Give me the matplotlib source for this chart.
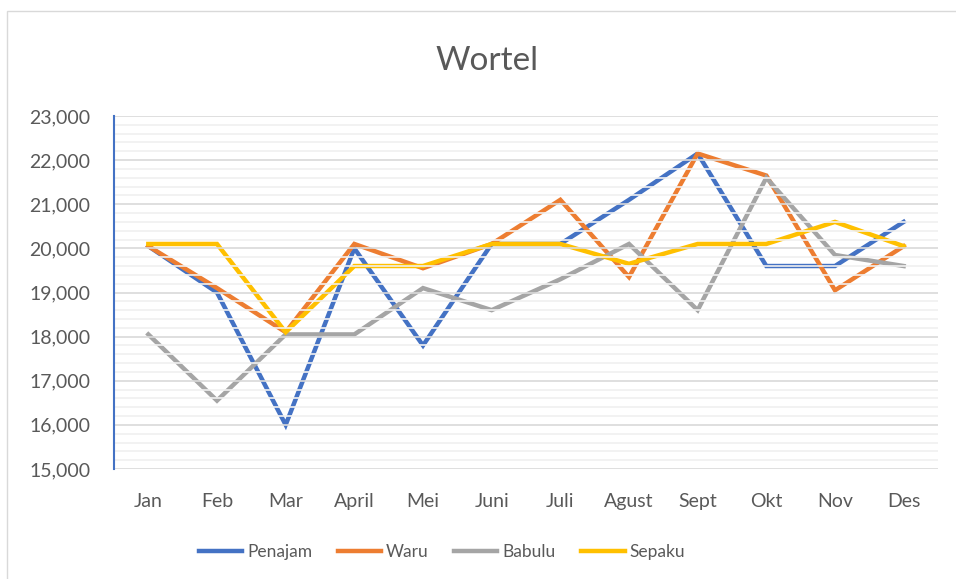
import numpy as np
import matplotlib.pyplot as plt
from matplotlib.ticker import MultipleLocator, FuncFormatter
from matplotlib.patches import Rectangle

plt.rcParams['font.family'] = ['Lato', 'DejaVu Sans']

bulan = ["Jan", "Feb", "Mar", "April", "Mei", "Juni", "Juli",
         "Agust", "Sept", "Okt", "Nov", "Des"]
penajam = [20050, 19000, 16000, 20000, 17800, 20100, 20100, 21100, 22150, 19600, 19600, 20600]
waru = [20050, 19100, 18100, 20100, 19550, 20100, 21100, 19350, 22150, 21650, 19050, 20050]
babulu = [18050, 16550, 18050, 18050, 19100, 18600, 19300, 20100, 18600, 21600, 19850, 19600]
sepaku = [20100, 20100, 18100, 19600, 19600, 20100, 20100, 19650, 20100, 20100, 20600, 20050]

txt = "#595959"
W, H = 956, 579
fig = plt.figure(figsize=(W / 100, H / 100), dpi=100)
fig.patches.append(Rectangle((7 / W, -0.1), 1.2, 1 - 11 / H + 0.1, transform=fig.transFigure,
                             fill=False, edgecolor="#d9d9d9", lw=1))

ax = fig.add_axes([114 / W, 1 - 469 / H, (938 - 114) / W, (469 - 116) / H])
x = np.arange(len(bulan))
series = [("Penajam", penajam, "#4472C4"), ("Waru", waru, "#ED7D31"),
          ("Babulu", babulu, "#A5A5A5"), ("Sepaku", sepaku, "#FFC000")]
for name, vals, col in series:
    ax.plot(x, vals, color=col, lw=3.2, label=name, zorder=2, solid_joinstyle="miter")

ax.set_xlim(-0.5, len(bulan) - 0.5)
ax.set_ylim(15000, 23000)
ax.set_xticks(x)
ax.set_xticklabels(bulan)
ax.yaxis.set_major_locator(MultipleLocator(1000))
ax.yaxis.set_minor_locator(MultipleLocator(200))
ax.yaxis.set_major_formatter(FuncFormatter(lambda v, p: f"{int(v):,}"))
ax.set_axisbelow(False)
ax.grid(axis="y", which="major", color="#d9d9d9", lw=1.2)
ax.grid(axis="y", which="minor", color="#f0f0f0", lw=1.2)
ax.tick_params(axis="both", which="both", length=0, labelsize=14, labelcolor=txt)
ax.tick_params(axis="y", pad=17)
ax.tick_params(axis="x", pad=17)
for s in ["top", "right", "bottom"]:
    ax.spines[s].set_visible(False)
ax.spines["left"].set_color("#4472C4")
ax.spines["left"].set_linewidth(1.5)
ax.spines["left"].set_zorder(4)

fig.text(0.509, 1 - 61 / H, "Wortel", ha="center", va="center", fontsize=24, color=txt)
leg = fig.legend(loc="center", bbox_to_anchor=(442 / W, 1 - 552 / H), ncol=4, frameon=False,
                 fontsize=12.5, handlelength=2.5, columnspacing=1.45, handletextpad=0.3)
for t in leg.get_texts():
    t.set_color(txt)
for h in leg.get_lines():
    h.set_linewidth(3.2)

fig.savefig("out.png", dpi=100)
